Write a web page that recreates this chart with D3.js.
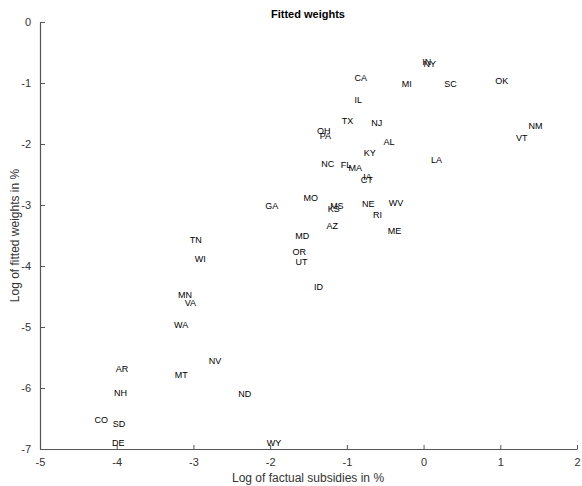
<!DOCTYPE html>
<html lang="en">
<head>
<meta charset="UTF-8">
<title>Fitted weights</title>
<script src="https://d3js.org/d3.v7.min.js"></script>
<style>
  body { margin: 0; background: #fff; }
  svg { font-family: "Liberation Sans", Arial, sans-serif; }
</style>
</head>
<body>
<svg width="582" height="486"></svg>
<script>
// state labels with (log factual subsidies, log fitted weights)
const states = ["IN","NY","CA","MI","SC","OK","IL","TX","NJ","OH","PA","NM","VT","AL","KY","LA",
  "NC","FL","MA","IA","CT","MO","GA","MS","KS","NE","WV","RI","AZ","ME","MD","OR","UT","ID",
  "TN","WI","MN","VA","WA","NV","AR","MT","NH","ND","CO","SD","DE","WY"];
const subsidies = [0.04,0.08,-0.82,-0.22,0.35,1.02,-0.85,-0.99,-0.61,-1.30,-1.28,1.46,1.28,-0.45,-0.70,0.17,
  -1.25,-1.01,-0.89,-0.73,-0.74,-1.47,-1.98,-1.13,-1.17,-0.72,-0.36,-0.60,-1.19,-0.38,-1.58,-1.62,-1.59,-1.37,
  -2.97,-2.91,-3.11,-3.04,-3.16,-2.72,-3.93,-3.16,-3.95,-2.33,-4.20,-3.97,-3.98,-1.95];
const weights = [-0.65,-0.69,-0.92,-1.01,-1.02,-0.97,-1.28,-1.63,-1.65,-1.78,-1.87,-1.70,-1.90,-1.97,-2.15,-2.27,
  -2.32,-2.34,-2.39,-2.54,-2.59,-2.88,-3.01,-3.01,-3.07,-2.99,-2.96,-3.16,-3.34,-3.42,-3.50,-3.77,-3.93,-4.34,
  -3.57,-3.89,-4.48,-4.61,-4.96,-5.55,-5.69,-5.78,-6.08,-6.10,-6.52,-6.59,-6.90,-6.90];
const xTicks = [-5,-4,-3,-2,-1,0,1,2];
const yTicks = [0,-1,-2,-3,-4,-5,-6,-7];

const svg = d3.select("svg");
const mLeft = 40, mRight = 577, mTop = 22, mBottom = 449;

const x = d3.scaleLinear().domain([-5, 2]).range([mLeft, mRight]);
const y = d3.scaleLinear().domain([-7, 0]).range([mBottom, mTop]);

// axes, ticks pointing inward
const fmt = d => String(d);
const xAxis = svg.append("g")
  .attr("transform", `translate(0,${mBottom})`)
  .call(d3.axisBottom(x).tickValues(xTicks).tickFormat(fmt).tickSizeInner(-4).tickSizeOuter(0).tickPadding(9));
const yAxis = svg.append("g")
  .attr("transform", `translate(${mLeft},0)`)
  .call(d3.axisLeft(y).tickValues(yTicks).tickFormat(fmt).tickSizeInner(-5).tickSizeOuter(0).tickPadding(9));

[xAxis, yAxis].forEach(a => {
  a.select(".domain").attr("stroke", "#555").attr("stroke-width", 1.2);
  a.selectAll(".tick line").attr("stroke", "#555");
  a.selectAll(".tick text").attr("font-size", 11).attr("fill", "#333")
    .attr("font-family", "Liberation Sans, Arial, sans-serif");
});

// labels as markers
svg.append("g").selectAll("text")
  .data(states)
  .join("text")
  .attr("x", (d, i) => x(subsidies[i]))
  .attr("y", (d, i) => y(weights[i]))
  .attr("text-anchor", "middle")
  .attr("dominant-baseline", "central")
  .attr("font-size", 9)
  .attr("fill", "#000")
  .text(d => d);

svg.append("text")
  .attr("x", 308).attr("y", 18)
  .attr("text-anchor", "middle")
  .attr("font-size", 11).attr("font-weight", "bold")
  .text("Fitted weights");

svg.append("text")
  .attr("x", 308).attr("y", 482)
  .attr("text-anchor", "middle")
  .attr("font-size", 12).attr("fill", "#333")
  .text("Log of factual subsidies in %");

svg.append("text")
  .attr("transform", `translate(19,${(mTop + mBottom) / 2}) rotate(-90)`)
  .attr("text-anchor", "middle")
  .attr("font-size", 12).attr("fill", "#333")
  .text("Log of fitted weights in %");
</script>
</body>
</html>
